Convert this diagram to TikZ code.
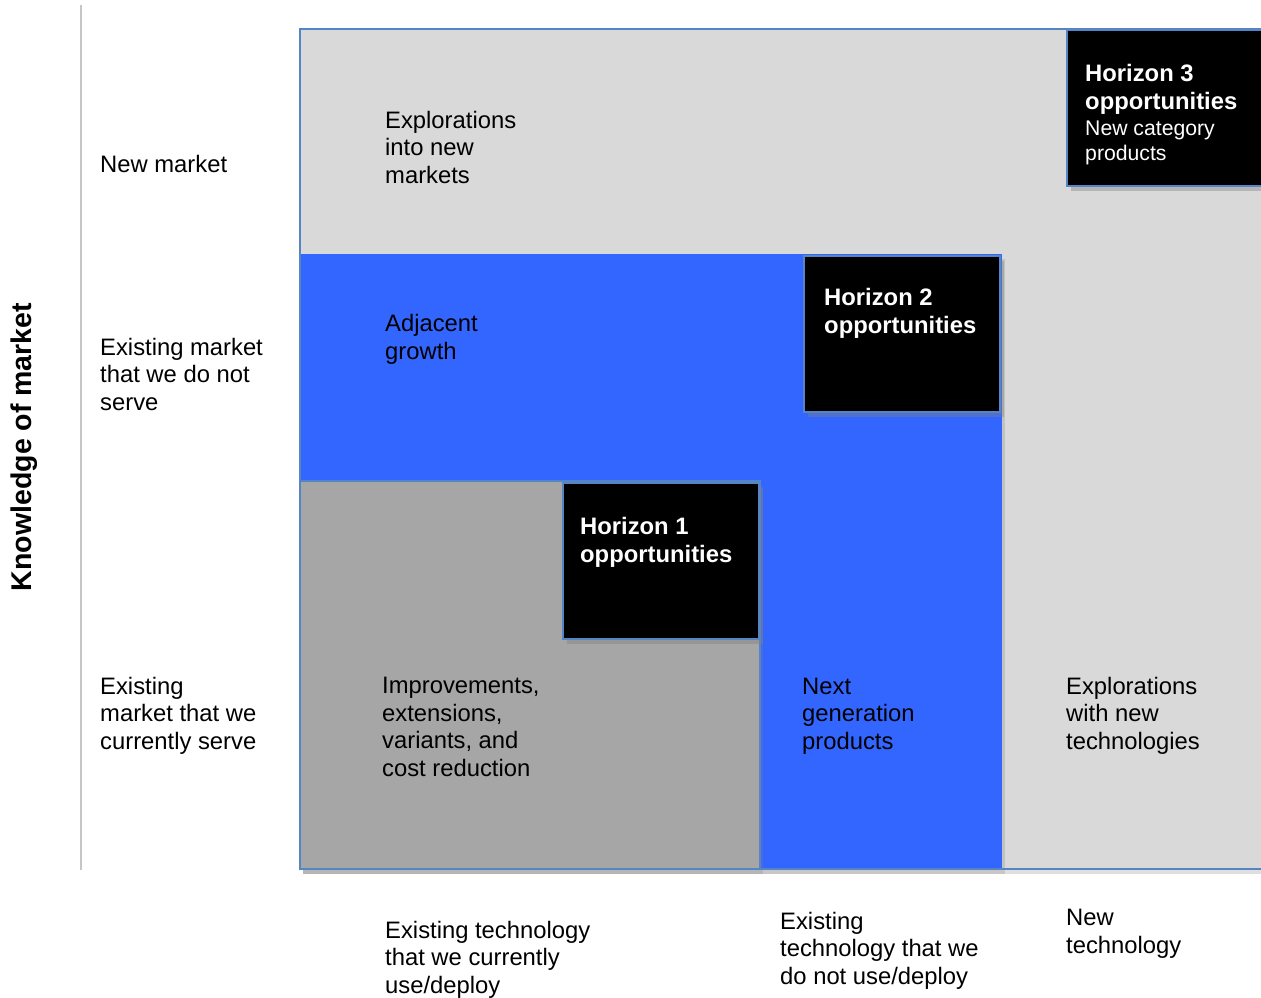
\documentclass[tikz,border=0pt]{standalone}
\usepackage{fontspec}
\setmainfont{Liberation Sans}
\usetikzlibrary{shadows,positioning}

\definecolor{palegray}{HTML}{D9D9D9}
\definecolor{midgray}{HTML}{A6A6A6}
\definecolor{brightblue}{HTML}{3366FF}
\definecolor{edgeblue}{HTML}{5585C5}

\tikzset{
  lbl/.style={anchor=base west, inner sep=0pt, align=left,
    font=\fontsize{23.8}{27.5}\selectfont},
  axis lbl/.style={lbl},
  hbox/.style={draw=edgeblue, line width=1.5pt, fill=black, anchor=north west,
    inner sep=0pt, minimum width=196pt, minimum height=156pt,
    drop shadow={shadow xshift=4pt, shadow yshift=-5pt, opacity=.4}},
  hlbl/.style={anchor=base west, inner sep=0pt, align=left, text=white,
    font=\fontsize{23.8}{27.5}\selectfont\bfseries},
  zone/.style={drop shadow={shadow xshift=3pt, shadow yshift=-5pt, opacity=.25}}
}

\begin{document}
\begin{tikzpicture}[x=1pt, y=-1pt]
\useasboundingbox (0,0) rectangle (1261,997);

% zones of the chart
\fill[white] (0,0) rectangle (1261,997);
\draw[gray!45, line width=1.2pt] (81,5) -- (81,870);
\filldraw[zone, fill=palegray, draw=edgeblue, line width=1.5pt] (300,29) rectangle (1270,869);
\fill[zone, brightblue] (300,254) rectangle (1002,869);
\filldraw[zone, fill=midgray, draw=edgeblue, line width=1.5pt] (300,481) rectangle (760,869);
\draw[edgeblue, line width=1.5pt] (300,29) -- (300,869) -- (1270,869);

% horizon boxes
\node[hbox] (h1box) at (562,482) {};
\node[hbox] (h2box) at (803,255) {};
\node[hbox, minimum width=210pt] (h3box) at (1066,29) {};

\node[hlbl] (h1) at (580,562) {Horizon 1\\opportunities};
\node[hlbl] (h2) at (824,333) {Horizon 2\\opportunities};
\node[hlbl] (h3) at (1085,109) {Horizon 3\\opportunities};
\node[anchor=base west, inner sep=0pt, align=left, text=white,
  font=\fontsize{21.2}{25}\selectfont] (h3sub) at (1085,160) {New category\\products};

% zone texts
\node[lbl] (explmkt) at (385,183) {Explorations\\into new\\markets};
\node[lbl] (adjgrow) at (385,359) {Adjacent\\growth};
\node[lbl] (improve) at (382,776) {Improvements,\\extensions,\\variants, and\\cost reduction};
\node[lbl] (nextgen) at (802,749) {Next\\generation\\products};
\node[lbl] (expltech) at (1066,749) {Explorations\\with new\\technologies};

% market axis
\node[lbl] (newmkt) at (100,172) {New market};
\node[lbl] (othermkt) at (100,410) {Existing market\\that we do not\\serve};
\node[lbl] (curmkt) at (100,749) {Existing\\market that we\\currently serve};
\node[rotate=90, inner sep=0pt, font=\fontsize{28.5}{32}\selectfont\bfseries] (mktaxis) at (24,447) {Knowledge of market};

% technology axis
\node[axis lbl] (curtech) at (385,993) {Existing technology\\that we currently\\use/deploy};
\node[axis lbl] (othertech) at (780,984) {Existing\\technology that we\\do not use/deploy};
\node[axis lbl] (newtech) at (1066,953) {New\\technology};
\end{tikzpicture}
\end{document}
